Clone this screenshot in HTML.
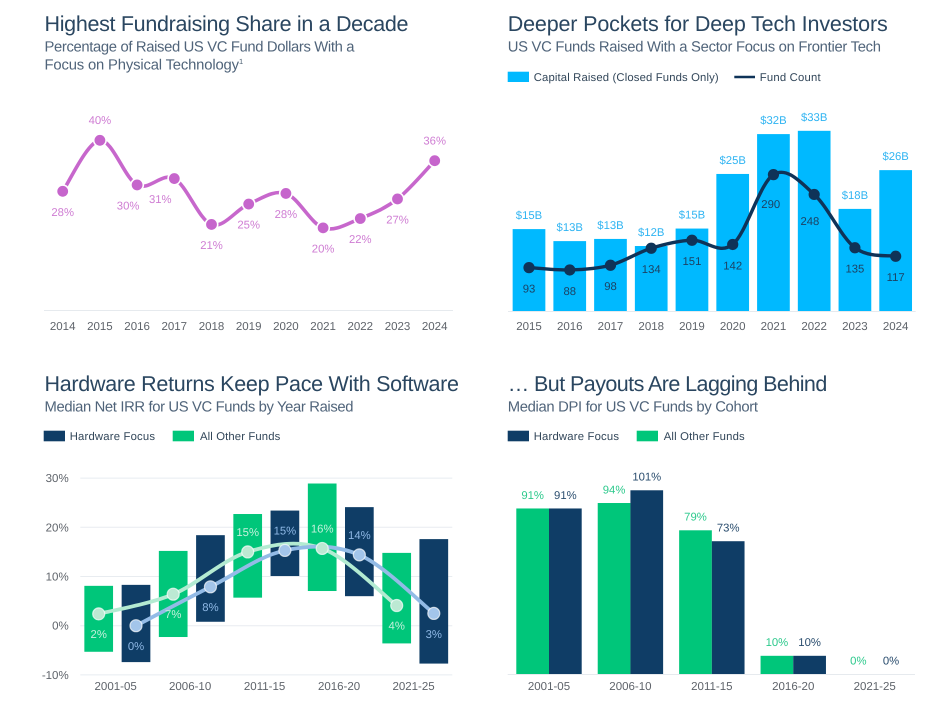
<!DOCTYPE html>
<html lang="en">
<head>
<meta charset="utf-8">
<title>Frontier Tech VC Charts</title>
<style>
html,body{margin:0;padding:0;background:#fff;}
svg{display:block;font-family:"Liberation Sans",sans-serif;text-rendering:geometricPrecision;}
.title{font-size:21.5px;fill:#2a4660;}
.sub{font-size:14.8px;fill:#50647a;}
.legend{font-size:11.3px;fill:#33475a;}
.tick{font-size:11.5px;fill:#5f646b;}
.val{font-size:11.3px;}
</style>
</head>
<body>
<svg id="root" width="941" height="712" viewBox="0 0 941 712" xmlns="http://www.w3.org/2000/svg">
<rect width="941" height="712" fill="#fff"/>

<text class="title" x="44.5" y="31" textLength="364">Highest Fundraising Share in a Decade</text>
<text class="sub" x="44.5" y="51.7" textLength="310">Percentage of Raised US VC Fund Dollars With a</text>
<text class="sub" x="44.5" y="69.7" textLength="194.5">Focus on Physical Technology</text>
<text x="239" y="64" font-size="7.5" fill="#4a5f72">1</text>

<text class="title" x="507.7" y="31" textLength="380">Deeper Pockets for Deep Tech Investors</text>
<text class="sub" x="507.7" y="51.7" textLength="373.3">US VC Funds Raised With a Sector Focus on Frontier Tech</text>
<rect x="507.7" y="71.7" width="21.3" height="10.3" fill="#00b9ff"/>
<text class="legend" x="533.7" y="81" textLength="185">Capital Raised (Closed Funds Only)</text>
<line x1="734.3" x2="755" y1="77" y2="77" stroke="#0f3358" stroke-width="2.5"/>
<text class="legend" x="759.7" y="81" textLength="61">Fund Count</text>

<text class="title" x="44.5" y="391" textLength="414.5">Hardware Returns Keep Pace With Software</text>
<text class="sub" x="44.5" y="411.7" textLength="309">Median Net IRR for US VC Funds by Year Raised</text>
<rect x="43.7" y="430.7" width="21.3" height="10.6" fill="#0f3d66"/>
<text class="legend" x="69.7" y="440" textLength="85.3">Hardware Focus</text>
<rect x="172.7" y="430.7" width="21.3" height="10.6" fill="#00c67a"/>
<text class="legend" x="200" y="440" textLength="80.3">All Other Funds</text>

<text class="title" x="507.7" y="391" textLength="319.6">… But Payouts Are Lagging Behind</text>
<text class="sub" x="507.7" y="411.7" textLength="250.3">Median DPI for US VC Funds by Cohort</text>
<rect x="507.7" y="430.7" width="21.3" height="10.6" fill="#0f3d66"/>
<text class="legend" x="533.7" y="440" textLength="85.3">Hardware Focus</text>
<rect x="636.7" y="430.7" width="21.3" height="10.6" fill="#00c67a"/>
<text class="legend" x="663.7" y="440" textLength="81">All Other Funds</text>
</svg>

<script>
// Chart 1: share of fund dollars
const shareYears = ['2014','2015','2016','2017','2018','2019','2020','2021','2022','2023','2024'];
const shareValues = [28, 40, 29.5, 31, 20.2, 25, 27.5, 19.4, 21.6, 26.2, 35.2];
const shareLabels = ['28%','40%','30%','31%','21%','25%','28%','20%','22%','27%','36%'];

// Chart 2: capital raised and fund count
const capitalYears = ['2015','2016','2017','2018','2019','2020','2021','2022','2023','2024'];
const capitalValues = [15, 12.8, 13.2, 11.9, 15.1, 25.1, 32.4, 33, 18.7, 25.8];
const capitalLabels = ['$15B','$13B','$13B','$12B','$15B','$25B','$32B','$33B','$18B','$26B'];
const fundCounts = [93, 88, 98, 134, 151, 142, 290, 248, 135, 117];

// Chart 3: IRR ranges and medians
const irrCohorts = ['2001-05','2006-10','2011-15','2016-20','2021-25'];
const irrTicks = [30, 20, 10, 0, -10];
const otherHigh = [8.1, 15.2, 22.7, 28.9, 14.8];
const otherLow = [-5.3, -2.3, 5.7, 7.05, -3.6];
const otherMedian = [2.4, 6.4, 15, 15.7, 4.1];
const otherMedianLabels = ['2%','7%','15%','16%','4%'];
const hardwareHigh = [8.3, 18.4, 23.4, 24.1, 17.6];
const hardwareLow = [-7.4, 0.8, 10.1, 6, -7.7];
const hardwareMedian = [0, 7.9, 15.3, 14.4, 2.5];
const hardwareMedianLabels = ['0%','8%','15%','14%','3%'];

// Chart 4: DPI
const dpiCohorts = ['2001-05','2006-10','2011-15','2016-20','2021-25'];
const dpiOther = [91, 94, 79, 10, 0];
const dpiHardware = [91, 101, 73, 10, 0];

const root = document.getElementById('root');
const NS = 'http://www.w3.org/2000/svg';

function make(tag, attrs, text) {
  const el = document.createElementNS(NS, tag);
  for (const k in attrs) el.setAttribute(k, attrs[k]);
  if (text !== undefined) el.textContent = text;
  root.appendChild(el);
  return el;
}
function smoothPath(pts) {
  let d = 'M' + pts[0][0] + ' ' + pts[0][1];
  for (let i = 0; i < pts.length - 1; i++) {
    const p0 = pts[Math.max(i - 1, 0)], p1 = pts[i], p2 = pts[i + 1], p3 = pts[Math.min(i + 2, pts.length - 1)];
    const c1x = p1[0] + (p2[0] - p0[0]) / 6, c1y = p1[1] + (p2[1] - p0[1]) / 6;
    const c2x = p2[0] - (p3[0] - p1[0]) / 6, c2y = p2[1] - (p3[1] - p1[1]) / 6;
    d += 'C' + c1x + ' ' + c1y + ' ' + c2x + ' ' + c2y + ' ' + p2[0] + ' ' + p2[1];
  }
  return d;
}
let el;

/* ---------- Chart 1 ---------- */
const shareX = i => 62.7 + i * 37.2;
const shareY = v => 310.3 - v * 4.25;
el = make('line', {x1: 44, x2: 453, y1: 310.5, y2: 310.5, stroke: '#e6eaee', 'stroke-width': 1});


el = make('path', {d: smoothPath(shareValues.map((v, i) => [shareX(i), shareY(v)])), fill: 'none', stroke: '#c767cc', 'stroke-width': 3.6});


shareValues.forEach((v, i) => {
  const above = i === 1 || i === 10;
  const nudge = i === 2 ? -9 : i === 3 ? -14 : 0;
  const pt = make('circle', {cx: shareX(i), cy: shareY(v), r: 6.2, fill: '#c665cc', stroke: '#fff', 'stroke-width': 1.6});
  
  
  const lb = make('text', {x: shareX(i) + nudge, y: shareY(v) + (above ? -16.3 : 24.6), 'text-anchor': 'middle', class: 'val', fill: '#cf7dd3'}, shareLabels[i]);
  
  
  const tk = make('text', {x: shareX(i), y: 330, 'text-anchor': 'middle', class: 'tick'}, shareYears[i]);
  
  
});

/* ---------- Chart 2 ---------- */
const capX = i => 529 + i * 40.74;
const capY = v => 311 - v * 5.46;
const countY = v => 311.5 - v * 0.472;
capitalValues.forEach((v, i) => {
  const b = make('rect', {x: capX(i) - 16.35, y: capY(v), width: 32.7, height: 311 - capY(v), fill: '#00b9ff'});
  
  
  const lb = make('text', {x: capX(i), y: capY(v) - 10, 'text-anchor': 'middle', class: 'val', fill: '#2fb4f2'}, capitalLabels[i]);
  
  
  const tk = make('text', {x: capX(i), y: 330, 'text-anchor': 'middle', class: 'tick'}, capitalYears[i]);
  
  
});
el = make('line', {x1: 508, x2: 915.7, y1: 311.5, y2: 311.5, stroke: '#e6eaee', 'stroke-width': 1});


el = make('path', {d: smoothPath(fundCounts.map((v, i) => [capX(i), countY(v)])), fill: 'none', stroke: '#0f3358', 'stroke-width': 3.4});


fundCounts.forEach((v, i) => {
  const dy = i === 6 ? 33.3 : i === 7 ? 30.7 : 24.8;
  const dx = i === 6 ? -2.7 : i === 7 ? -4.3 : 0;
  const pt = make('circle', {cx: capX(i), cy: countY(v), r: 5.6, fill: '#0f3358'});
  
  
  const lb = make('text', {x: capX(i) + dx, y: countY(v) + dy, 'text-anchor': 'middle', class: 'val', fill: '#1c4163'}, String(v));
  
  
});

/* ---------- Chart 3 ---------- */
const irrY = v => 625.7 - v * 4.92;
const otherX = i => 98.7 + i * 74.5;
const hwX = i => 136 + i * 74.45;
irrTicks.forEach(t => {
  const g = make('line', {x1: 80.3, x2: 452.3, y1: irrY(t), y2: irrY(t), stroke: '#e8ecf0', 'stroke-width': 1});
  
  
  const lb = make('text', {x: 68.7, y: irrY(t) + 4, 'text-anchor': 'end', class: 'tick'}, t + '%');
  
  
});
irrCohorts.forEach((c, i) => {
  const g = make('rect', {x: otherX(i) - 14.35, y: irrY(otherHigh[i]), width: 28.7, height: irrY(otherLow[i]) - irrY(otherHigh[i]), fill: '#00c67a'});
  
  
  const h = make('rect', {x: hwX(i) - 14.35, y: irrY(hardwareHigh[i]), width: 28.7, height: irrY(hardwareLow[i]) - irrY(hardwareHigh[i]), fill: '#0f3d66'});
  
  
  const tk = make('text', {x: (otherX(i) + hwX(i)) / 2 - 1.7, y: 690, 'text-anchor': 'middle', class: 'tick'}, c);
  
  
});
el = make('path', {d: smoothPath(otherMedian.map((v, i) => [otherX(i), irrY(v)])), fill: 'none', stroke: '#b3ebd2', 'stroke-width': 3.8});


el = make('path', {d: smoothPath(hardwareMedian.map((v, i) => [hwX(i), irrY(v)])), fill: 'none', stroke: '#93bbe6', 'stroke-width': 3.8});


irrCohorts.forEach((c, i) => {
  const above = i === 2 || i === 3;
  const g = make('circle', {cx: otherX(i), cy: irrY(otherMedian[i]), r: 6, fill: '#bce9d3', stroke: '#fff', 'stroke-width': 1.2, 'stroke-opacity': 0.7});
  
  
  const gl = make('text', {x: otherX(i), y: irrY(otherMedian[i]) + (above ? -16 : 24), 'text-anchor': 'middle', class: 'val', fill: '#c4f0dc'}, otherMedianLabels[i]);
  
  
  const h = make('circle', {cx: hwX(i), cy: irrY(hardwareMedian[i]), r: 6, fill: '#a3c5ea', stroke: '#fff', 'stroke-width': 1.2, 'stroke-opacity': 0.7});
  
  
  const hl = make('text', {x: hwX(i), y: irrY(hardwareMedian[i]) + (above ? -16 : 24.4), 'text-anchor': 'middle', class: 'val', fill: '#8fb9e6'}, hardwareMedianLabels[i]);
  
  
});

/* ---------- Chart 4 ---------- */
const dpiX = i => 549 + i * 81.42;
const dpiY = v => 674 - v * 1.819;
dpiCohorts.forEach((c, i) => {
  const g = make('rect', {x: dpiX(i) - 32.7, y: dpiY(dpiOther[i]), width: 32.7, height: 674 - dpiY(dpiOther[i]), fill: '#00c67a'});
  
  
  const h = make('rect', {x: dpiX(i), y: dpiY(dpiHardware[i]), width: 32.7, height: 674 - dpiY(dpiHardware[i]), fill: '#0f3d66'});
  
  
  const gl = make('text', {x: dpiX(i) - 16.35, y: dpiY(dpiOther[i]) - 9.7, 'text-anchor': 'middle', class: 'val', fill: '#2cc98c'}, dpiOther[i] + '%');
  
  
  const hl = make('text', {x: dpiX(i) + 16.35, y: dpiY(dpiHardware[i]) - 9.7, 'text-anchor': 'middle', class: 'val', fill: '#2a4d6e'}, dpiHardware[i] + '%');
  
  
  const tk = make('text', {x: dpiX(i), y: 690, 'text-anchor': 'middle', class: 'tick'}, c);
  
  
});
el = make('line', {x1: 507.7, x2: 915, y1: 674.5, y2: 674.5, stroke: '#e6eaee', 'stroke-width': 1});


</script>
</body>
</html>
